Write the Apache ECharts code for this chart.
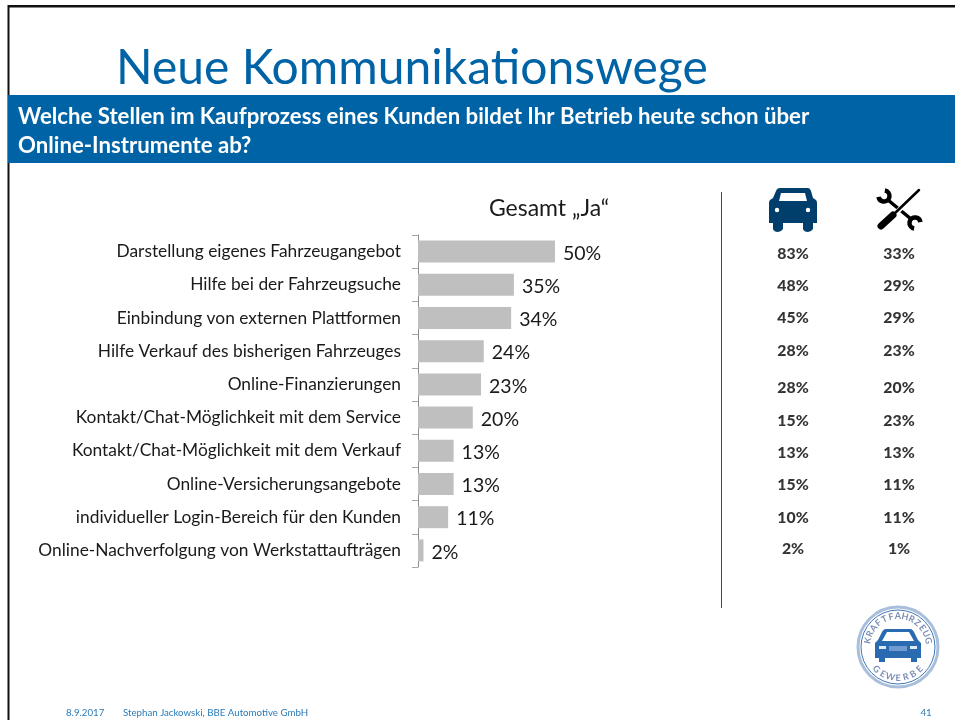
<!DOCTYPE html>
<html><head><meta charset="utf-8">
<style>html,body{margin:0;padding:0;background:#fff}#c{width:955px;height:720px}</style>
<script src="https://cdn.jsdelivr.net/npm/echarts@6/dist/echarts.min.js"></script>
</head><body><div id="c"></div>
<script>
const categories = ["Darstellung eigenes Fahrzeugangebot","Hilfe bei der Fahrzeugsuche","Einbindung von externen Plattformen","Hilfe Verkauf des bisherigen Fahrzeuges","Online-Finanzierungen","Kontakt/Chat-Möglichkeit mit dem Service","Kontakt/Chat-Möglichkeit mit dem Verkauf","Online-Versicherungsangebote","individueller Login-Bereich für den Kunden","Online-Nachverfolgung von Werkstattaufträgen"];
const gesamt = [50,35,34,24,23,20,13,13,11,2];
const handel = [83,48,45,28,28,15,13,15,10,2];
const werkstatt = [33,29,29,23,20,23,13,11,11,1];
const rowNudge = [2,1,0,0,3,3,2,1,1,-2];
const F = 'Lato, "Open Sans", sans-serif';
const BLUE = '#0063a6';

function shape(name, d){ echarts.graphic.registerShape(name, echarts.graphic.extendPath(d, {})); }
shape('carIcon','M780 188 L808 188 Q810 188 811 191 L813 198 L816 200 Q817 201 817 203 L817 223 L813 223 L813 229 Q811 232 808 232 Q804 232 803 229 L803 223 L783 223 L783 229 Q781 232 778 232 Q774 232 773 229 L773 223 L769 223 L769 203 Q769 201 770 200 L773 198 L776 191 Q777 188 780 188 Z M781 193 L779 201 L807 201 L805 193 Z');
shape('logoCar','M886 629 L910 629 Q913 629 915 634 L918 640 L921 643 L921 658 L917 658 L917 662 L911 662 L911 658 L885 658 L885 662 L879 662 L879 658 L875 658 L875 643 L878 640 L881 634 Q883 629 886 629 Z M887 632 L882 641 L914 641 L909 632 Z');

const letters = [];
function arcText(str, startDeg, stepDeg, r, bottom){
  [...str].forEach((ch,i)=>{
    const a = (startDeg + i*stepDeg) * Math.PI/180;
    letters.push({type:'text',x:898+r*Math.sin(a),y:647-r*Math.cos(a),rotation:bottom? Math.PI-a : -a,
      style:{text:ch,font:'bold 9px '+F,fill:'#7d8fb5',textAlign:'center',textVerticalAlign:'middle'},silent:true});
  });
}
arcText('KRAFTFAHRZEUG',-78,13,31,false);
arcText('GEWERBE',224,-14.7,31,true);

const ink = {stroke:'#000',fill:null,lineCap:'round'};
const graphics = [
  {type:'rect',shape:{x:8,y:5,width:947,height:2.5},style:{fill:'#111'}},
  {type:'rect',shape:{x:7.5,y:5,width:2,height:715},style:{fill:'#111'}},
  {type:'rect',shape:{x:8,y:95,width:947,height:68},style:{fill:BLUE}},
  {type:'text',x:18,y:117,style:{text:'Welche Stellen im Kaufprozess eines Kunden bildet Ihr Betrieb heute schon über',font:'bold 22.2px '+F,fill:'#fff',textVerticalAlign:'middle'}},
  {type:'text',x:18,y:146,style:{text:'Online-Instrumente ab?',font:'bold 22.2px '+F,fill:'#fff',textVerticalAlign:'middle'}},
  {type:'text',x:549,y:209,style:{text:'Gesamt „Ja“',font:'23px '+F,fill:'#1a1a1a',textAlign:'center',textVerticalAlign:'middle'}},
  {type:'rect',shape:{x:721,y:192,width:1,height:416},style:{fill:'#2f4a66'}},
  {type:'carIcon',style:{fill:'#003f6b'}},
  {type:'circle',shape:{cx:777,cy:210,r:2.2},style:{fill:'#fff'}},
  {type:'circle',shape:{cx:808,cy:210,r:2.2},style:{fill:'#fff'}},
  {type:'line',shape:{x1:888,y1:200,x2:911,y2:219},style:Object.assign({},ink,{lineWidth:3.5})},
  {type:'arc',shape:{cx:884,cy:196,r:5.5,startAngle:Math.PI*1.55,endAngle:Math.PI*0.95,clockwise:true},style:Object.assign({},ink,{lineWidth:4.5,lineCap:'butt'})},
  {type:'arc',shape:{cx:915,cy:223,r:5.5,startAngle:Math.PI*0.55,endAngle:Math.PI*1.95,clockwise:true},style:Object.assign({},ink,{lineWidth:4.5,lineCap:'butt'})},
  {type:'line',shape:{x1:919,y1:190,x2:892,y2:217},style:{stroke:'#fff',lineWidth:5}},
  {type:'line',shape:{x1:919,y1:190,x2:893,y2:215},style:Object.assign({},ink,{lineWidth:2.5})},
  {type:'line',shape:{x1:893,y1:215,x2:881,y2:226},style:Object.assign({},ink,{lineWidth:7})},
  {type:'circle',shape:{cx:898,cy:647,r:40},style:{fill:'#fff',stroke:'#a8bedb',lineWidth:3}},
  {type:'circle',shape:{cx:898,cy:647,r:37},style:{fill:'#fff',stroke:'#3f76b5',lineWidth:1}},
  {type:'logoCar',style:{fill:'#2a6ab0'}},
  {type:'rect',shape:{x:879,y:646,width:7,height:3},style:{fill:'#dfeaf5'}},
  {type:'rect',shape:{x:910,y:646,width:7,height:3},style:{fill:'#dfeaf5'}},
  {type:'rect',shape:{x:889,y:646,width:18,height:5},style:{fill:'#6f9bd0'}},
  ...letters,
  {type:'text',x:66,y:713,style:{text:'8.9.2017',font:'9.7px '+F,fill:'#2a7ab8',textVerticalAlign:'middle'}},
  {type:'text',x:123,y:713,style:{text:'Stephan Jackowski, BBE Automotive GmbH',font:'9.7px '+F,fill:'#2a7ab8',textVerticalAlign:'middle'}},
  {type:'text',x:926,y:713,style:{text:'41',font:'9.7px '+F,fill:'#2a7ab8',textAlign:'center',textVerticalAlign:'middle'}}
];

function col(xIdx, arr){
  return {type:'scatter',xAxisIndex:xIdx,yAxisIndex:xIdx,symbolSize:1,itemStyle:{color:'rgba(0,0,0,0)'},silent:true,
    data:arr.map((v,i)=>({value:[0,categories[i]],raw:v,label:{offset:[0,rowNudge[i]]}})),
    label:{show:true,position:'inside',formatter:p=>p.data.raw+'%',fontFamily:F,fontWeight:900,fontSize:15.8,color:'#000',textBorderWidth:0}};
}
const hiddenY = (g)=>({type:'category',gridIndex:g,data:categories,inverse:true,show:false});
const chart = echarts.init(document.getElementById('c'),null,{renderer:'canvas'});
chart.setOption({
  animation:false,backgroundColor:'#fff',
  title:{text:'Neue Kommunikationswege',left:111,top:40,textStyle:{fontFamily:F,fontSize:48,fontWeight:'normal',color:BLUE}},
  grid:[
    {left:418,top:235,width:274,height:332},
    {left:743,top:235,width:100,height:332},
    {left:849,top:235,width:100,height:332}
  ],
  xAxis:[
    {type:'value',min:0,max:100,show:false,gridIndex:0},
    {type:'value',min:-1,max:1,show:false,gridIndex:1},
    {type:'value',min:-1,max:1,show:false,gridIndex:2}
  ],
  yAxis:[
    {type:'category',gridIndex:0,data:categories,inverse:true,
      axisLine:{show:true,lineStyle:{color:'#8c8c8c',width:1}},
      axisTick:{show:true,length:6,lineStyle:{color:'#a6a6a6'}},
      axisLabel:{margin:17,fontFamily:F,fontSize:17.35,color:'#1a1a1a',interval:0,padding:[4,0,0,0]}},
    hiddenY(1),hiddenY(2)
  ],
  series:[
    {type:'bar',xAxisIndex:0,yAxisIndex:0,data:gesamt,barWidth:22,silent:true,
      itemStyle:{color:'#bfbfbf'},
      label:{show:true,position:'right',distance:8,offset:[0,2],formatter:'{c}%',fontFamily:F,fontSize:19.5,color:'#1a1a1a'}},
    col(1,handel),col(2,werkstatt)
  ],
  graphic:{elements:graphics}
});
</script></body></html>
